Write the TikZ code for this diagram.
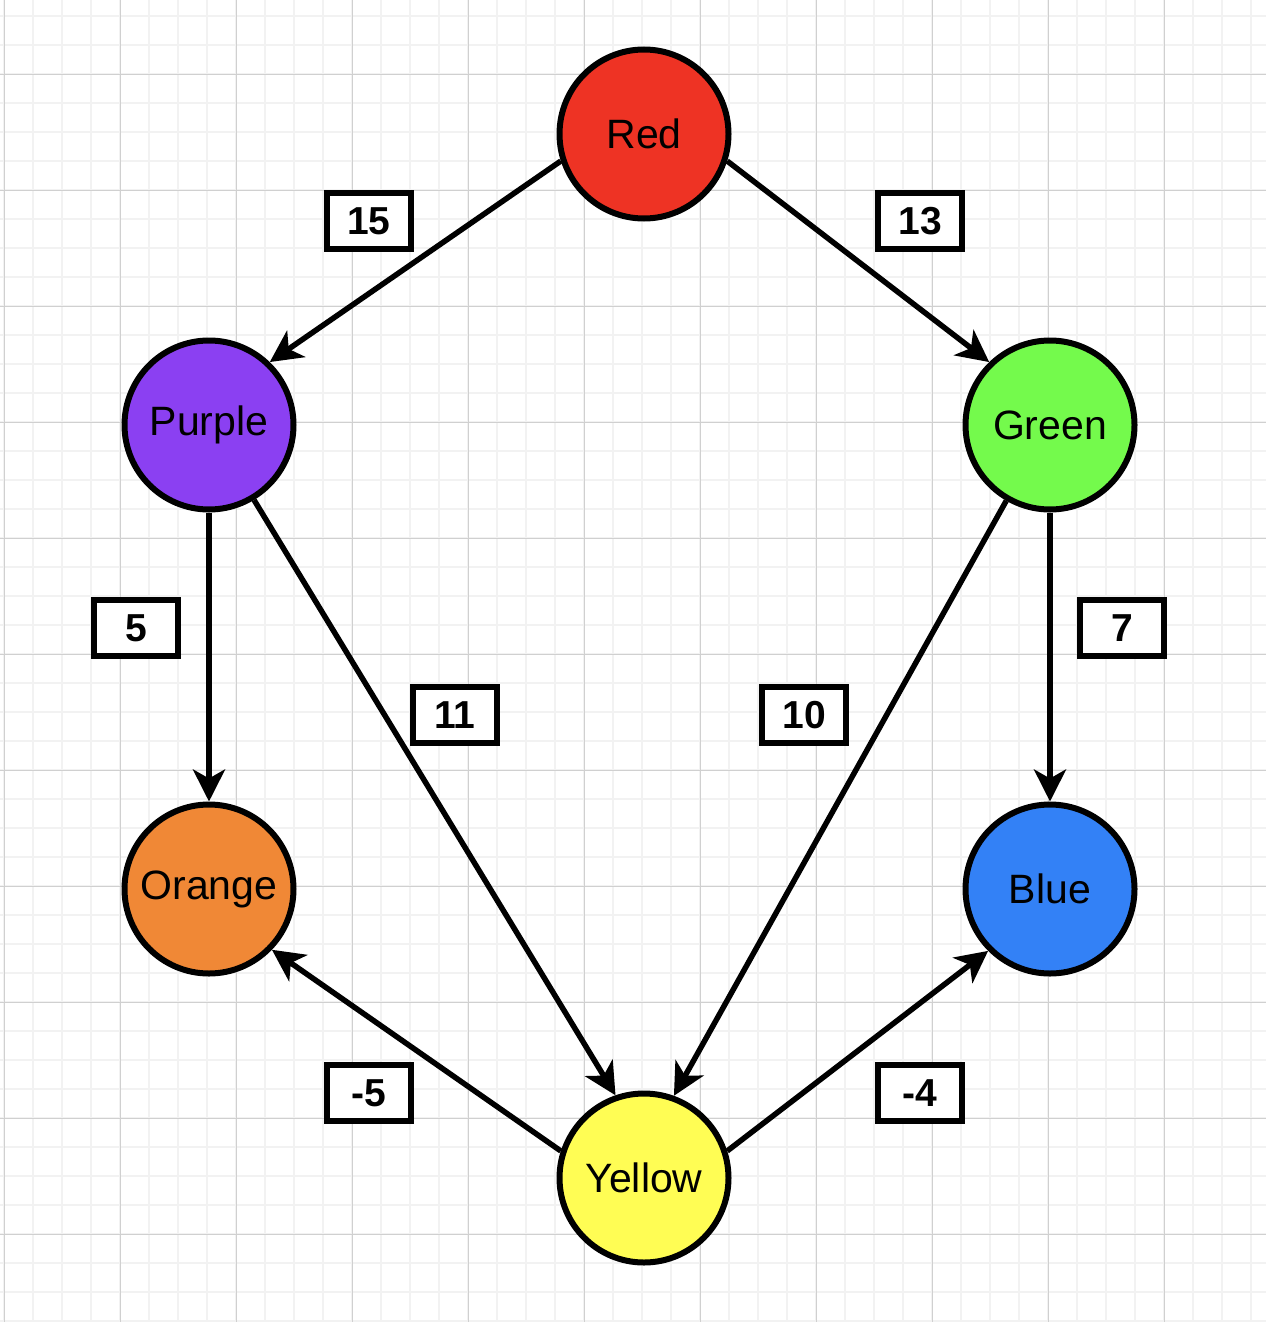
\documentclass[tikz,border=0pt]{standalone}
\usepackage{fontspec}
\setmainfont{Liberation Sans}
\usetikzlibrary{arrows.meta}
\definecolor{cRed}{RGB}{238,51,36}
\definecolor{cPurple}{RGB}{139,64,242}
\definecolor{cGreen}{RGB}{116,250,76}
\definecolor{cOrange}{RGB}{240,136,54}
\definecolor{cBlue}{RGB}{51,129,246}
\definecolor{cYellow}{RGB}{255,253,84}
\definecolor{gridminor}{RGB}{242,242,242}
\definecolor{gridmajor}{RGB}{208,208,208}
\tikzset{
  vertex/.style={circle, draw=black, line width=6pt, minimum size=169pt, inner sep=0pt,
     font=\fontsize{41}{43}\selectfont},
  wlabel/.style={draw=black, line width=6pt, minimum width=84pt, minimum height=56pt, inner sep=0pt,
     fill=white, font=\fontsize{39}{41}\selectfont\bfseries},
  edge/.style={line width=5.5pt, -{Stealth[length=32pt,width=32pt,inset=9pt]}},
  minorline/.style={gridminor, line width=1.8pt},
  majorline/.style={gridmajor, line width=1.2pt}
}
\begin{document}
\begin{tikzpicture}[x=1pt,y=-1pt]
\useasboundingbox (0,0) rectangle (1266,1322);
\fill[white] (0,0) rectangle (1266,1322);
% grid
\foreach \i in {0,...,43} {\draw[minorline] ({4.3+29*\i},0) -- ++(0,1322);}
\foreach \j in {0,...,45} {\draw[minorline] (0,{16.3+29*\j}) -- ++(1266,0);}
\foreach \i in {0,...,10} {\draw[majorline] ({4.3+116*\i},0) -- ++(0,1322);}
\foreach \j in {0,...,11} {\draw[majorline] (0,{74.3+116*\j}) -- ++(1266,0);}
% vertices
\node[vertex, fill=cRed] (red) at (644,134) {Red};
\node[vertex, fill=cPurple] (purple) at (209,425) {Purple};
\node[vertex, fill=cGreen] (green) at (1050,425) {Green};
\node[vertex, fill=cOrange] (orange) at (209,889) {Orange};
\node[vertex, fill=cBlue] (blue) at (1050,889) {Blue};
\node[vertex, fill=cYellow] (yellow) at (644,1178) {Yellow};
% edges
\draw[edge] (red.198) -- (purple.46);
\draw[edge] (red.342) -- (green.134);
\draw[edge] (purple.south) -- (orange.north);
\draw[edge] (purple.301) -- (yellow.109);
\draw[edge] (green.240) -- (yellow.70);
\draw[edge] (green.south) -- (blue.north);
\draw[edge] (yellow.162) -- (orange.316);
\draw[edge] (yellow.18) -- (blue.225);
% weight labels
\node[wlabel] (l15) at (369,221) {15};
\node[wlabel] (l13) at (920,221) {13};
\node[wlabel] (l5) at (136,628) {5};
\node[wlabel] (l7) at (1122,628) {7};
\node[wlabel] (l11) at (455,715) {11};
\node[wlabel] (l10) at (804,715) {10};
\node[wlabel] (lm5) at (369,1093) {-5};
\node[wlabel] (lm4) at (920,1093) {-4};
\end{tikzpicture}
\end{document}
